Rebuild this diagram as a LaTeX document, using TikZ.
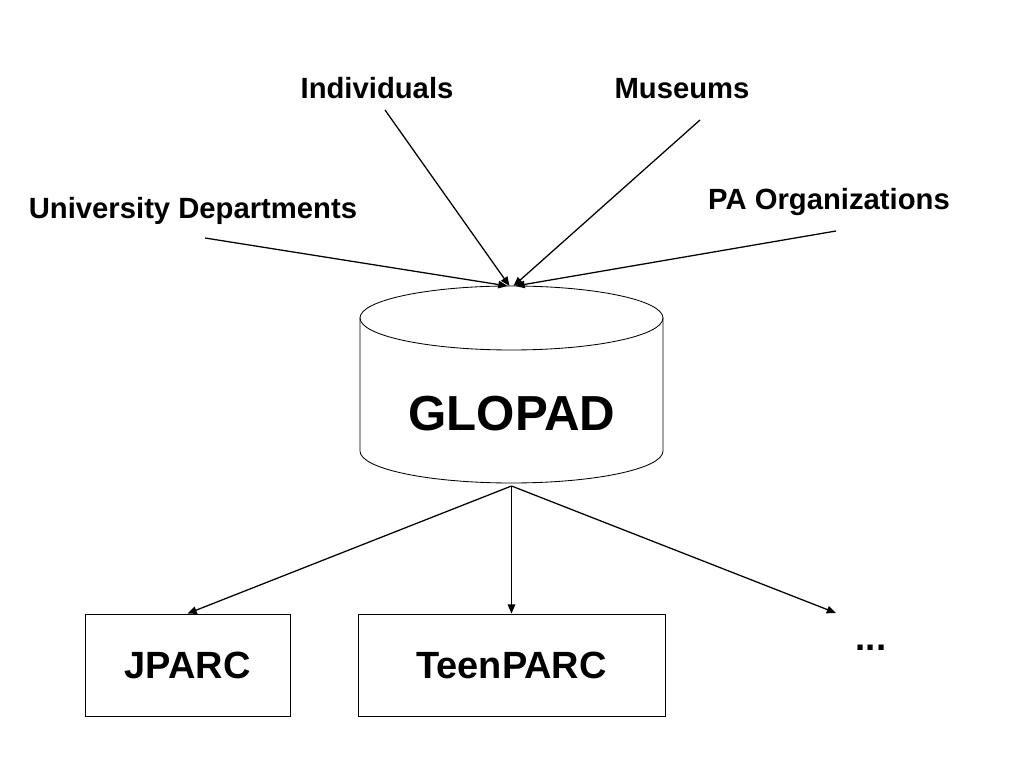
\documentclass[tikz,border=0pt]{standalone}
\usepackage{fontspec}
\setmainfont{Liberation Sans}
\usetikzlibrary{positioning}
\usetikzlibrary{arrows.meta}

\begin{document}
\begin{tikzpicture}
% Define styles
\tikzstyle{source} = [font=\fontsize{20.8}{24}\selectfont\bfseries]
\tikzstyle{site} = [rectangle, draw, minimum width=5.125cm, minimum height=2.55cm, font=\fontsize{27}{30}\selectfont\bfseries, line width=0.6pt]
\tikzstyle{feed} = [-{Triangle[length=2.3mm,width=1.9mm]}, line width=0.9pt]
\useasboundingbox (0,0) rectangle (25.6,19.2);
% Define the database
\draw[line width=0.6pt] (9,11.25) -- (9,7.925) arc (180:360:3.7875cm and 0.8cm) -- (16.575,11.25);
\draw[line width=0.6pt] (12.7875,11.25) ellipse (3.7875cm and 0.8cm);
\coordinate (glopad_top) at (12.7875,12.05);
\coordinate (glopad_bottom) at (12.7875,7.05);
% Define nodes
\node[font=\fontsize{35}{40}\selectfont\bfseries] (glopad) at (12.8,8.85) {GLOPAD};
\node[source] (individuals) at (9.425,17.0) {Individuals};
\node[source] (museums) at (17.05,16.975) {Museums};
\node[source] (university) at (4.825,13.925) {University Departments};
\node[source] (pa_org) at (20.725,14.15) {PA Organizations};
\node[site] (jparc) at (4.6875,2.575) {JPARC};
\node[site, minimum width=7.675cm] (teenparc) at (12.7875,2.575) {TeenPARC};
\node[font=\fontsize{26}{30}\selectfont\bfseries, anchor=base] (more) at (21.775,2.925) {...};
\coordinate (university_tail) at (5.125,13.25);
\coordinate (individuals_tail) at (9.625,16.45);
\coordinate (museums_tail) at (17.5,16.2);
\coordinate (pa_org_tail) at (20.9,13.425);
\coordinate (more_head) at (20.9,3.875);

% Connect the nodes
\draw[feed] (university_tail) -- ([xshift=-0.1cm]glopad_top);
\draw[feed] (individuals_tail) -- ([xshift=-0.05cm]glopad_top);
\draw[feed] (museums_tail) -- ([xshift=0.05cm]glopad_top);
\draw[feed] (pa_org_tail) -- ([xshift=0.1cm]glopad_top);
\draw[feed] (glopad_bottom) -- (jparc.north);
\draw[feed] (glopad_bottom) -- (teenparc.north);
\draw[feed] (glopad_bottom) -- (more_head);

\end{tikzpicture}
\end{document}
